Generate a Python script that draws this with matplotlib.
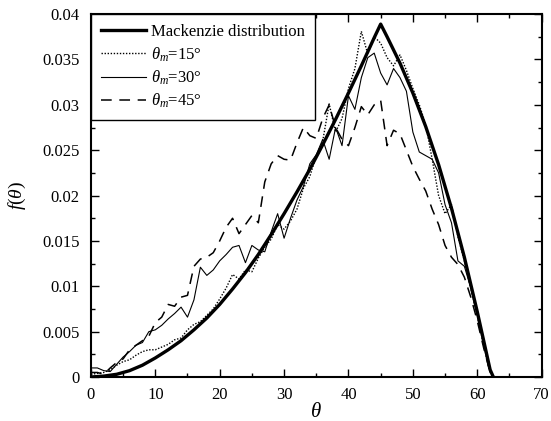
import matplotlib
matplotlib.use("Agg")
import matplotlib.pyplot as plt
from matplotlib.ticker import MultipleLocator, FixedLocator

plt.rcParams['font.family'] = ['Liberation Serif', 'DejaVu Serif']
plt.rcParams['mathtext.fontset'] = 'custom'
plt.rcParams['mathtext.rm'] = 'Liberation Serif'
plt.rcParams['mathtext.it'] = 'Liberation Serif:italic'

# --- data ---
mack_theta = [0, 2, 4, 6, 8, 10, 12, 14, 16, 18, 20, 22, 24, 26, 28, 30, 32, 34,
              36, 38, 40, 42, 44, 45, 46, 48, 50, 52, 54, 56, 58, 60, 61, 62, 62.5]
mack_f = [0, 0.0001, 0.0003, 0.0007, 0.0013, 0.0021, 0.0030, 0.0040, 0.0052,
          0.0065, 0.0080, 0.0097, 0.0115, 0.0135, 0.0157, 0.0180, 0.0204, 0.0229,
          0.0256, 0.0284, 0.0313, 0.0343, 0.0374, 0.0389, 0.0375, 0.0346, 0.0313,
          0.0276, 0.0234, 0.0186, 0.0132, 0.0072, 0.0040, 0.0008, 0.0]

theta_bins = list(range(0, 63))

f_15 = [0.0003, 0.0004, 0.0005, 0.0008, 0.0013, 0.0017, 0.0019, 0.0024, 0.0028, 0.0030,
        0.0030, 0.0033, 0.0036, 0.0041, 0.0043, 0.0052, 0.0058, 0.0061, 0.0068, 0.0075,
        0.0086, 0.0098, 0.0113, 0.0108, 0.0118, 0.0116, 0.0131, 0.0143, 0.0152, 0.0168,
        0.0163, 0.0172, 0.0185, 0.0208, 0.0221, 0.0244, 0.0260, 0.0301, 0.0270, 0.0285,
        0.0318, 0.0340, 0.0381, 0.0356, 0.0375, 0.0368, 0.0352, 0.0343, 0.0355, 0.0338,
        0.0318, 0.0300, 0.0278, 0.0240, 0.0200, 0.0180, 0.0190, 0.0155, 0.0128, 0.0098,
        0.0068, 0.0035, 0.0005]

f_30 = [0.0010, 0.0010, 0.0007, 0.0006, 0.0014, 0.0022, 0.0028, 0.0035, 0.0038, 0.0050,
        0.0052, 0.0057, 0.0064, 0.0070, 0.0077, 0.0066, 0.0085, 0.0121, 0.0112, 0.0118,
        0.0128, 0.0135, 0.0143, 0.0145, 0.0126, 0.0145, 0.0140, 0.0138, 0.0160, 0.0180,
        0.0153, 0.0175, 0.0195, 0.0210, 0.0235, 0.0245, 0.0262, 0.0240, 0.0275, 0.0255,
        0.0310, 0.0295, 0.0330, 0.0352, 0.0357, 0.0335, 0.0322, 0.0340, 0.0330, 0.0315,
        0.0270, 0.0248, 0.0244, 0.0240, 0.0225, 0.0190, 0.0170, 0.0128, 0.0122, 0.0098,
        0.0068, 0.0035, 0.0005]

f_45 = [0.0005, 0.0005, 0.0003, 0.0010, 0.0016, 0.0020, 0.0030, 0.0035, 0.0040, 0.0045,
        0.0060, 0.0066, 0.0080, 0.0078, 0.0088, 0.0090, 0.0122, 0.0130, 0.0132, 0.0137,
        0.0150, 0.0165, 0.0175, 0.0158, 0.0168, 0.0178, 0.0170, 0.0215, 0.0235, 0.0244,
        0.0240, 0.0239, 0.0258, 0.0275, 0.0266, 0.0263, 0.0285, 0.0300, 0.0275, 0.0262,
        0.0255, 0.0275, 0.0298, 0.0289, 0.0300, 0.0305, 0.0255, 0.0272, 0.0268, 0.0250,
        0.0232, 0.0218, 0.0205, 0.0185, 0.0168, 0.0145, 0.0132, 0.0124, 0.0110, 0.0088,
        0.0062, 0.0032, 0.0005]

labels = ['Mackenzie distribution', r'$\theta_m$=15°', r'$\theta_m$=30°', r'$\theta_m$=45°']
xticks = [0, 10, 20, 30, 40, 50, 60, 70]
yticks = [0, 0.005, 0.01, 0.015, 0.02, 0.025, 0.03, 0.035, 0.04]
ytick_labels = ['0', '0.005', '0.01', '0.015', '0.02', '0.025', '0.03', '0.035', '0.04']

fig = plt.figure(figsize=(5.51, 4.21), dpi=100)
ax = fig.add_axes([0.165, 0.1045, 0.818, 0.862])

ax.plot(mack_theta, mack_f, color='black', lw=2.4, label=labels[0])
ax.plot(theta_bins, f_15, color='black', lw=1.0, linestyle=(0, (1, 1.2)), label=labels[1])
ax.plot(theta_bins, f_30, color='black', lw=0.8, label=labels[2])
ax.plot(theta_bins, f_45, color='black', lw=1.1, linestyle=(0, (7, 5)), label=labels[3])

ax.set_xlim(0, 70)
ax.set_ylim(0, 0.04)
ax.xaxis.set_major_locator(FixedLocator(xticks))
ax.xaxis.set_minor_locator(MultipleLocator(5))
ax.yaxis.set_major_locator(FixedLocator(yticks))
ax.yaxis.set_minor_locator(MultipleLocator(0.0025))
ax.set_yticklabels(ytick_labels)
ax.set_xticklabels([str(t) for t in xticks])
ax.tick_params(which='both', direction='in', top=True, right=True, labelsize=12, width=1.0)
ax.tick_params(which='major', length=6)
ax.tick_params(axis='x', which='major', pad=7)
ax.tick_params(axis='y', which='major', pad=8)
ax.tick_params(which='minor', length=3)
for s in ax.spines.values():
    s.set_linewidth(1.5)

ax.set_xlabel(r'$\theta$', fontsize=15, labelpad=0)
ax.set_ylabel(r'$f(\theta)$', fontsize=14, labelpad=10)

leg = ax.legend(loc='upper left', borderaxespad=0, fancybox=False, edgecolor='black',
                framealpha=1, fontsize=12, handlelength=2.7, labelspacing=0.3,
                borderpad=0.6, handletextpad=0.3)
leg.get_frame().set_linewidth(1.0)

fig.savefig('out.png', dpi=100)
